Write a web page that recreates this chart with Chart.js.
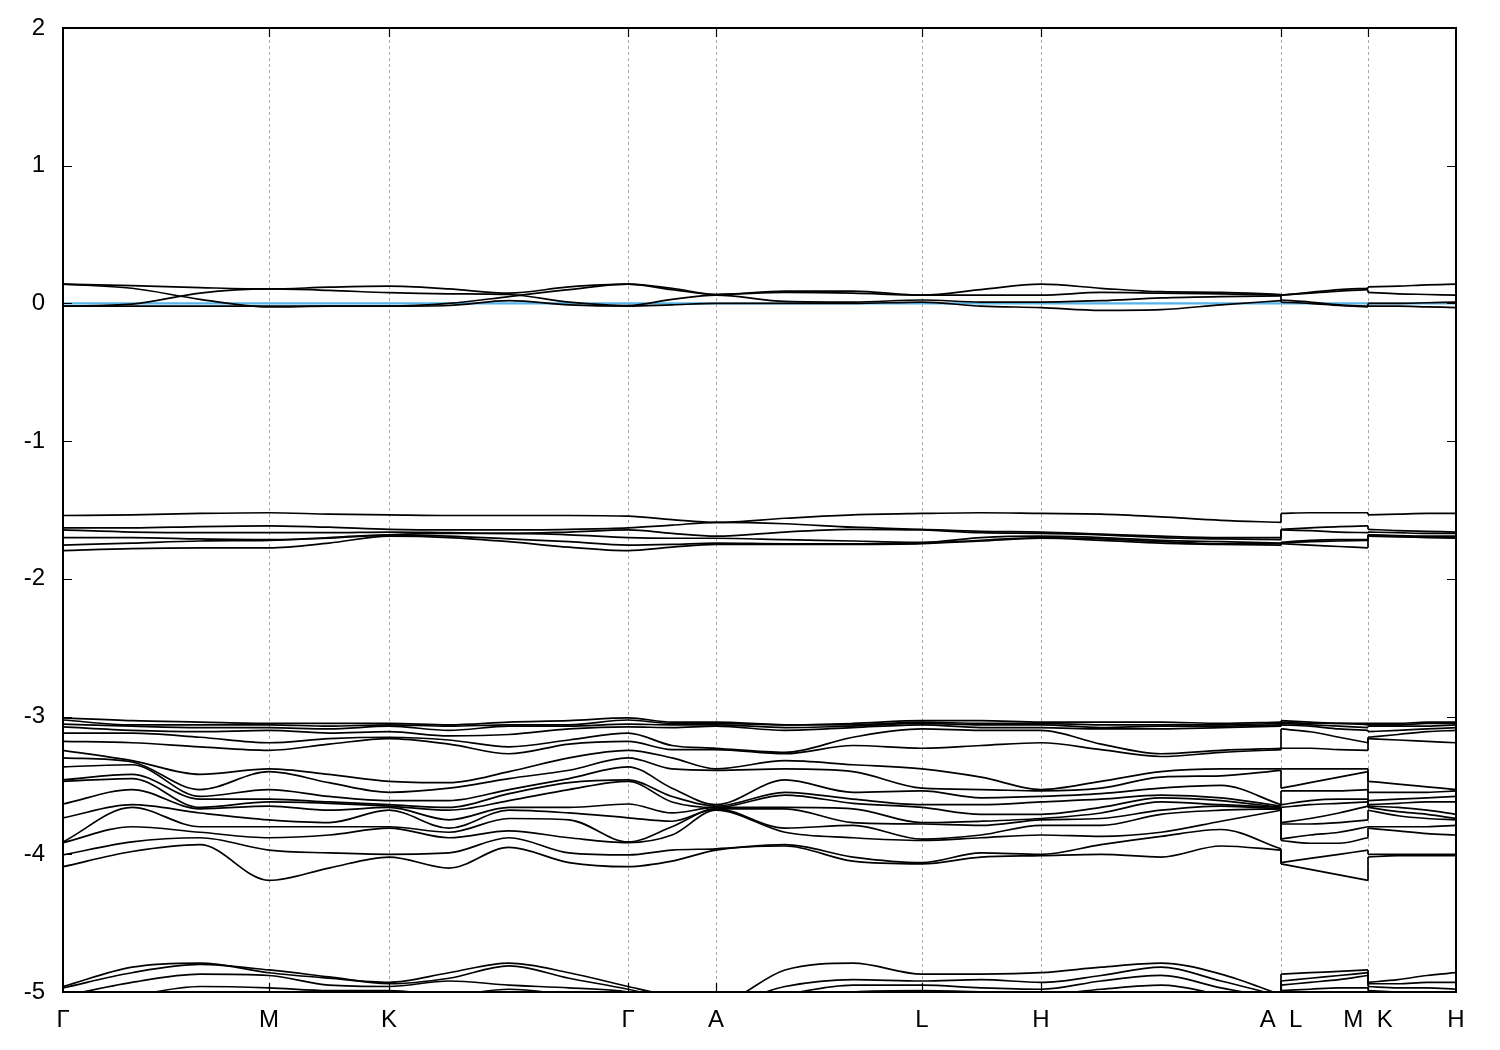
<!DOCTYPE html>
<html>
<head>
<meta charset="utf-8">
<script src="https://cdn.jsdelivr.net/npm/chart.js@4.4.0/dist/chart.umd.min.js"></script>
<style>
html, body { margin: 0; padding: 0; background: #fff; }
#wrap { width: 1500px; height: 1050px; }
</style>
</head>
<body>
<div id="wrap"><canvas id="bands" width="1500" height="1050"></canvas></div>
<script>
// path through the zone, distance along k
const kTicks = [0, 206, 326, 565, 653, 859, 978, 1218, 1305, 1393];
const kLabels = ['Γ', 'M', 'K', 'Γ', 'A', 'L', 'H', 'A  L', 'M  K', 'H'];

// nodes where energies were read (three continuous pieces: Γ..A, L..M, K..H)
const kSeg1 = [0, 69, 137, 206, 266, 326, 386, 446, 506, 565, 609, 653, 722, 790, 859, 918, 978, 1038, 1098, 1158, 1218];
const kSeg2 = [1218, 1247, 1276, 1305];
const kSeg3 = [1305, 1335, 1364, 1393];

// bands near 0 eV
const topSeg1 = [
    [0.14, 0.13, 0.115, 0.105, 0.118, 0.125, 0.105, 0.075, 0.12, 0.14, 0.11, 0.065, 0.09, 0.09, 0.06, 0.10, 0.14, 0.11, 0.085, 0.08, 0.065],
    [0.14, 0.11, 0.03, -0.025, -0.02, -0.02, 0.0, 0.05, 0.10, 0.14, 0.10, 0.065, 0.08, 0.075, 0.06, 0.06, 0.06, 0.08, 0.075, 0.07, 0.06],
    [-0.02, -0.005, 0.075, 0.105, 0.095, 0.078, 0.07, 0.065, 0.01, -0.015, 0.03, 0.06, 0.015, 0.01, 0.025, 0.01, 0.01, 0.02, 0.04, 0.05, 0.055],
    [-0.02, -0.02, -0.02, -0.02, -0.02, -0.02, -0.015, 0.02, -0.01, -0.02, -0.01, 0.0, 0.0, 0.0, 0.01, -0.02, -0.03, -0.05, -0.045, -0.01, 0.02]
];
const topSeg2 = [[0.06, 0.08, 0.1, 0.11], [0.06, 0.075, 0.09, 0.10], [0.025, 0.01, -0.01, -0.02], [0.01, 0.0, -0.015, -0.025]];
const topSeg3 = [[0.12, 0.125, 0.135, 0.14], [0.08, 0.07, 0.065, 0.06], [0.0, 0.0, 0.005, 0.01], [-0.02, -0.02, -0.025, -0.03]];
const fermiLevel = 0;

// bands around -1.6 eV
const midSeg1 = [
    [-1.54, -1.535, -1.525, -1.52, -1.53, -1.535, -1.54, -1.54, -1.54, -1.545, -1.57, -1.59, -1.56, -1.535, -1.525, -1.52, -1.525, -1.53, -1.55, -1.575, -1.59],
    [-1.63, -1.63, -1.62, -1.615, -1.625, -1.64, -1.645, -1.645, -1.64, -1.63, -1.61, -1.59, -1.60, -1.625, -1.64, -1.655, -1.66, -1.675, -1.69, -1.70, -1.70],
    [-1.645, -1.66, -1.665, -1.665, -1.665, -1.66, -1.665, -1.67, -1.66, -1.645, -1.67, -1.69, -1.66, -1.64, -1.645, -1.665, -1.67, -1.68, -1.70, -1.71, -1.715],
    [-1.70, -1.70, -1.71, -1.715, -1.705, -1.68, -1.67, -1.67, -1.68, -1.70, -1.705, -1.705, -1.715, -1.725, -1.735, -1.70, -1.69, -1.70, -1.72, -1.73, -1.74],
    [-1.755, -1.74, -1.725, -1.72, -1.70, -1.68, -1.69, -1.71, -1.73, -1.755, -1.75, -1.74, -1.745, -1.745, -1.74, -1.72, -1.70, -1.71, -1.73, -1.745, -1.745],
    [-1.795, -1.78, -1.775, -1.775, -1.74, -1.69, -1.70, -1.73, -1.77, -1.795, -1.77, -1.75, -1.75, -1.75, -1.745, -1.725, -1.705, -1.72, -1.74, -1.75, -1.755]
];
const midSeg2 = [
    [-1.525, -1.52, -1.52, -1.52], [-1.64, -1.63, -1.62, -1.615], [-1.645, -1.65, -1.66, -1.665],
    [-1.735, -1.72, -1.715, -1.715], [-1.74, -1.73, -1.725, -1.72], [-1.745, -1.755, -1.765, -1.775]
];
const midSeg3 = [
    [-1.535, -1.53, -1.525, -1.525], [-1.64, -1.65, -1.655, -1.66], [-1.66, -1.665, -1.67, -1.67],
    [-1.68, -1.685, -1.69, -1.69], [-1.68, -1.69, -1.695, -1.70], [-1.69, -1.695, -1.70, -1.705]
];

// -3 .. -4.2 eV manifold, one sorted column of energies per node
const gamma = [-3.01, -3.025, -3.055, -3.075, -3.12, -3.18, -3.245, -3.30, -3.365, -3.46, -3.47, -3.635, -3.735, -3.91, -3.915, -4.005, -4.09];
const pointA = [-3.04, -3.05, -3.06, -3.07, -3.23, -3.24, -3.38, -3.39, -3.64, -3.65, -3.66, -3.66, -3.67, -3.67, -3.68, -3.96, -3.97];
const pointM = [-3.05, -3.06, -3.08, -3.10, -3.19, -3.245, -3.38, -3.40, -3.53, -3.60, -3.62, -3.65, -3.75, -3.80, -3.88, -3.97, -4.19];
const pointK = [-3.05, -3.06, -3.07, -3.11, -3.15, -3.16, -3.47, -3.55, -3.61, -3.64, -3.65, -3.66, -3.68, -3.80, -3.81, -4.00, -4.02];
const pointL = [-3.03, -3.04, -3.05, -3.06, -3.09, -3.23, -3.38, -3.52, -3.54, -3.64, -3.66, -3.77, -3.78, -3.89, -3.90, -4.06, -4.07];
const pointH = [-3.04, -3.05, -3.06, -3.08, -3.10, -3.19, -3.53, -3.54, -3.58, -3.62, -3.71, -3.74, -3.75, -3.79, -3.86, -4.00, -4.01];
const lowSeg1 = [
    gamma,
    [-3.03, -3.06, -3.07, -3.10, -3.12, -3.19, -3.32, -3.33, -3.35, -3.42, -3.45, -3.53, -3.64, -3.66, -3.80, -3.91, -3.98],
    [-3.04, -3.06, -3.08, -3.11, -3.15, -3.22, -3.42, -3.53, -3.58, -3.60, -3.66, -3.67, -3.70, -3.80, -3.84, -3.88, -3.93],
    pointM,
    [-3.05, -3.07, -3.09, -3.12, -3.16, -3.20, -3.42, -3.48, -3.58, -3.62, -3.63, -3.68, -3.77, -3.80, -3.86, -3.99, -4.10],
    pointK,
    [-3.06, -3.07, -3.10, -3.14, -3.17, -3.20, -3.48, -3.52, -3.61, -3.66, -3.68, -3.75, -3.81, -3.84, -3.88, -3.99, -4.10],
    [-3.04, -3.06, -3.07, -3.13, -3.22, -3.27, -3.40, -3.45, -3.53, -3.56, -3.61, -3.66, -3.68, -3.74, -3.83, -3.88, -3.95],
    [-3.03, -3.06, -3.07, -3.09, -3.17, -3.20, -3.30, -3.39, -3.45, -3.48, -3.53, -3.66, -3.70, -3.75, -3.88, -3.99, -4.06],
    gamma,
    [-3.04, -3.05, -3.06, -3.08, -3.21, -3.24, -3.30, -3.38, -3.52, -3.58, -3.62, -3.70, -3.76, -3.80, -3.86, -3.97, -4.05],
    pointA,
    [-3.06, -3.06, -3.08, -3.10, -3.26, -3.27, -3.32, -3.38, -3.46, -3.55, -3.57, -3.66, -3.67, -3.81, -3.84, -3.93, -3.94],
    [-3.05, -3.06, -3.07, -3.08, -3.15, -3.21, -3.35, -3.40, -3.55, -3.60, -3.63, -3.67, -3.77, -3.79, -3.88, -4.02, -4.05],
    pointL,
    [-3.03, -3.05, -3.06, -3.08, -3.10, -3.21, -3.44, -3.53, -3.59, -3.64, -3.71, -3.76, -3.79, -3.86, -3.88, -3.99, -4.02],
    pointH,
    [-3.04, -3.06, -3.08, -3.09, -3.20, -3.24, -3.47, -3.52, -3.56, -3.60, -3.66, -3.70, -3.74, -3.79, -3.87, -3.93, -4.00],
    [-3.04, -3.06, -3.07, -3.09, -3.27, -3.29, -3.40, -3.44, -3.52, -3.57, -3.59, -3.62, -3.68, -3.71, -3.84, -3.87, -4.02],
    [-3.05, -3.06, -3.07, -3.08, -3.245, -3.26, -3.38, -3.43, -3.50, -3.59, -3.61, -3.64, -3.65, -3.68, -3.76, -3.82, -3.94],
    pointA
];
const lowSeg2 = [
    pointL,
    [-3.04, -3.05, -3.06, -3.07, -3.11, -3.23, -3.38, -3.48, -3.54, -3.61, -3.64, -3.74, -3.78, -3.86, -3.92, -4.03, -4.11],
    [-3.05, -3.05, -3.07, -3.09, -3.15, -3.24, -3.38, -3.44, -3.54, -3.60, -3.63, -3.70, -3.77, -3.84, -3.92, -4.00, -4.15],
    pointM
];
const lowSeg3 = [
    pointK,
    [-3.05, -3.06, -3.07, -3.10, -3.13, -3.17, -3.49, -3.55, -3.60, -3.63, -3.66, -3.69, -3.72, -3.80, -3.83, -4.00, -4.01],
    [-3.04, -3.05, -3.07, -3.09, -3.11, -3.18, -3.51, -3.55, -3.59, -3.62, -3.68, -3.71, -3.74, -3.80, -3.85, -4.00, -4.01],
    pointH
];

// bands at the bottom edge (run below -5)
const deepSeg1 = [
    [-4.96, -4.82, -4.79, -4.86, -4.90, -4.93, -4.86, -4.79, -4.86, -4.96, -5.03, -5.08, -4.84, -4.79, -4.87, -4.87, -4.86, -4.82, -4.79, -4.87, -5.02],
    [-4.97, -4.86, -4.80, -4.84, -4.89, -4.94, -4.90, -4.81, -4.90, -4.98, -5.05, -5.10, -4.96, -4.91, -4.92, -4.91, -4.93, -4.88, -4.82, -4.92, -5.03],
    [-5.03, -4.93, -4.87, -4.88, -4.95, -4.96, -4.92, -4.95, -4.97, -5.0, -5.08, -5.12, -5.02, -4.95, -4.95, -4.97, -4.98, -4.92, -4.88, -4.97, -5.05],
    [-5.12, -5.03, -4.96, -4.97, -4.99, -4.99, -5.02, -4.98, -5.02, -5.06, -5.12, -5.16, -5.08, -5.0, -4.99, -5.0, -5.02, -4.98, -4.95, -5.02, -5.10]
];
const deepSeg2 = [[-4.87, -4.86, -4.85, -4.84], [-4.92, -4.90, -4.88, -4.86], [-4.95, -4.93, -4.91, -4.88], [-4.99, -4.98, -4.97, -4.97]];
const deepSeg3 = [[-4.93, -4.91, -4.88, -4.86], [-4.94, -4.94, -4.93, -4.93], [-4.96, -4.97, -4.97, -4.98], [-4.99, -5.0, -5.01, -5.02]];

const transpose = cols => cols[0].map((_, i) => cols.map(c => c[i]));

const datasets = [];
const bandWidth = 1.7;

function line(points, color, width, smooth) {
    return {
        data: points,
        borderColor: color,
        borderWidth: width,
        pointRadius: 0,
        fill: false,
        tension: 0,
        cubicInterpolationMode: smooth ? 'monotone' : 'default'
    };
}

function addBands(b1, b2, b3) {
    b1.forEach((band, i) => {
        [[kSeg1, band], [kSeg2, b2[i]], [kSeg3, b3[i]]].forEach(([ks, ys]) => {
            datasets.push(line(ks.map((k, j) => ({ x: k, y: ys[j] })), '#000', bandWidth, true));
        });
        // gnuplot joins the pieces with vertical strokes at A|L and M|K
        datasets.push(line([{ x: kSeg2[0], y: band[band.length - 1] }, { x: kSeg2[0], y: b2[i][0] }], '#000', bandWidth, false));
        datasets.push(line([{ x: kSeg3[0], y: b2[i][b2[i].length - 1] }, { x: kSeg3[0], y: b3[i][0] }], '#000', bandWidth, false));
    });
}

addBands(topSeg1, topSeg2, topSeg3);
addBands(midSeg1, midSeg2, midSeg3);
addBands(transpose(lowSeg1), transpose(lowSeg2), transpose(lowSeg3));
addBands(deepSeg1, deepSeg2, deepSeg3);
datasets.push(line([{ x: kTicks[0], y: fermiLevel }, { x: kTicks[kTicks.length - 1], y: fermiLevel }], '#56b4e9', 2.2, false));

// box and inward tick marks, as gnuplot draws them
const frame = {
    id: 'frame',
    afterDatasetsDraw(chart) {
        const { ctx, chartArea: a, scales: { x, y } } = chart;
        ctx.save();
        ctx.strokeStyle = '#000';
        ctx.lineWidth = 1.2;
        ctx.beginPath();
        y.ticks.forEach(t => {
            const p = Math.round(y.getPixelForValue(t.value)) + 0.5;
            ctx.moveTo(a.left, p); ctx.lineTo(a.left + 9, p);
            ctx.moveTo(a.right, p); ctx.lineTo(a.right - 9, p);
        });
        kTicks.slice(1, -1).forEach(k => {
            const p = Math.round(x.getPixelForValue(k)) + 0.5;
            ctx.moveTo(p, a.bottom); ctx.lineTo(p, a.bottom - 9);
            ctx.moveTo(p, a.top); ctx.lineTo(p, a.top + 9);
        });
        ctx.stroke();
        ctx.lineWidth = 2;
        ctx.strokeRect(a.left, a.top, a.right - a.left, a.bottom - a.top);
        ctx.restore();
    }
};

const labelFont = { family: 'Liberation Sans, Arial, sans-serif', size: 24 };

new Chart(document.getElementById('bands').getContext('2d'), {
    type: 'line',
    data: { datasets },
    options: {
        responsive: false,
        animation: false,
        layout: { padding: { top: 28, right: 44, bottom: 0, left: 0 } },
        plugins: { legend: { display: false }, tooltip: { enabled: false } },
        scales: {
            x: {
                type: 'linear',
                min: kTicks[0],
                max: kTicks[kTicks.length - 1],
                afterBuildTicks: s => { s.ticks = kTicks.map(v => ({ value: v })); },
                afterFit: s => { s.height = 58; },
                ticks: {
                    autoSkip: false,
                    maxRotation: 0,
                    padding: 14,
                    color: '#000',
                    font: labelFont,
                    callback: (v, i) => kLabels[i]
                },
                grid: {
                    color: c => (c.index === 0 || c.index === kTicks.length - 1) ? 'rgba(0,0,0,0)' : '#a8a8a8',
                    lineWidth: 1,
                    drawTicks: false
                },
                border: { display: false, dash: [3, 3] }
            },
            y: {
                min: -5,
                max: 2,
                afterFit: s => { s.width = 63; },
                ticks: { stepSize: 1, padding: 8, color: '#000', font: labelFont },
                // invisible grid, only there so tickLength pushes the labels left
                grid: { display: true, color: 'rgba(0,0,0,0)', drawOnChartArea: false, drawTicks: true, tickLength: 10 },
                border: { display: false }
            }
        }
    },
    plugins: [frame]
});
</script>
</body>
</html>
